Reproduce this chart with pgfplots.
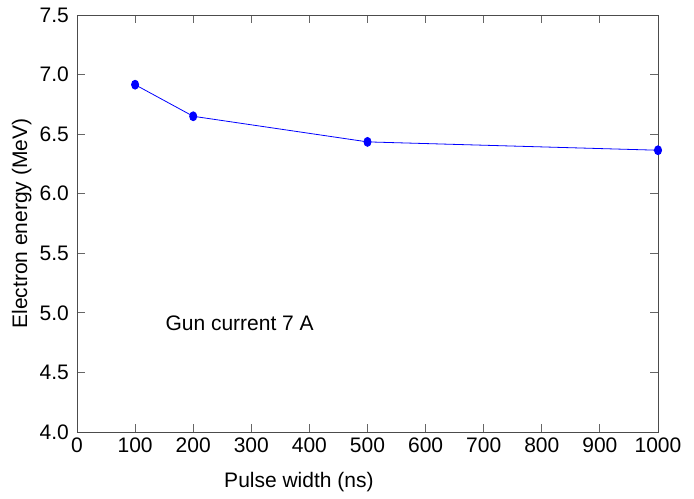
\documentclass[border=0pt]{standalone}
\usepackage{fontspec}
\setmainfont{Liberation Sans}
\usepackage{pgfplots}
\pgfplotsset{compat=1.18}
\begin{document}
\fontsize{21}{25}\selectfont
\begin{tikzpicture}
\begin{axis}[
  scale only axis,
  width=581pt, height=417pt,
  xmin=0, xmax=1000, ymin=4.0, ymax=7.5,
  xtick={0,100,...,1000},
  ytick={4.0,4.5,...,7.5},
  tick align=inside,
  major tick length=8pt,
  axis line style={draw=black!70, line width=0.9pt},
  tick style={draw=black!60, line width=0.9pt},
  /pgf/number format/assume math mode=true,
  yticklabel style={/pgf/number format/fixed, /pgf/number format/fixed zerofill, /pgf/number format/precision=1, xshift=-1pt},
  xticklabel style={/pgf/number format/1000 sep={}, yshift=1pt},
  xlabel={Pulse width (ns)},
  ylabel={Electron energy (MeV)},
  xlabel style={at={(axis description cs:0.382,-0.12)}, anchor=center},
  ylabel style={at={(axis description cs:-0.095,0.5)}, anchor=center},
  font=\fontsize{21}{25}\selectfont,
]
\addplot[blue, line width=0.8pt, mark=*, mark size=4.5pt, mark options={xscale=0.8, fill=blue, draw=blue}]
  coordinates {(100,6.915) (200,6.65) (500,6.435) (1000,6.365)};
\node[anchor=west] at (axis cs:140,4.91) {Gun current 7 A};
\end{axis}
\useasboundingbox (-77pt,-65pt) rectangle (617pt,432pt);
\end{tikzpicture}
\end{document}
